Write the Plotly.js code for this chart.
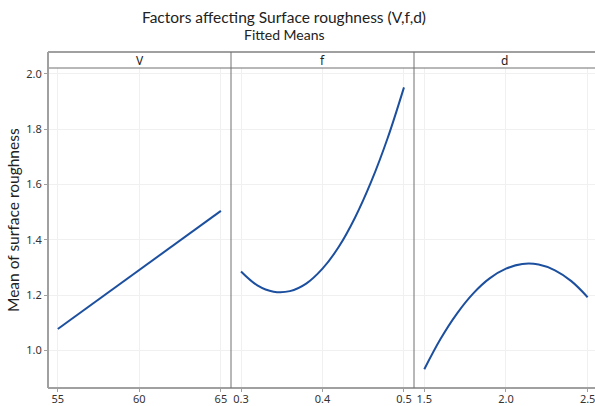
<!DOCTYPE html>
<html>
<head>
<meta charset="utf-8">
<script src="https://cdn.plot.ly/plotly-3.0.1.min.js"></script>
<style>html,body{margin:0;padding:0;background:#fff;}#chart{width:595px;height:406px;}</style>
</head>
<body>
<div id="chart"></div>
<script>
// Data (fitted means)
var vLevels = [55, 60, 65];
var vMeans  = [1.078, 1.292, 1.505];

var fLevels = [0.30, 0.32, 0.34, 0.36, 0.38, 0.40, 0.42, 0.44, 0.46, 0.48, 0.50];
var fMeans  = [1.286, 1.236, 1.213, 1.215, 1.242, 1.296, 1.375, 1.481, 1.612, 1.768, 1.951];

var dLevels = [1.5, 1.6, 1.7, 1.8, 1.9, 2.0, 2.1, 2.2, 2.3, 2.4, 2.5];
var dMeans  = [0.933, 1.043, 1.134, 1.207, 1.261, 1.296, 1.313, 1.311, 1.290, 1.251, 1.193];

var panelNames = ["V", "f", "d"];
var vTicks = [55, 60, 65];
var fTicks = [0.3, 0.4, 0.5];
var dTicks = [1.5, 2.0, 2.5];
var yTicks = [1.0, 1.2, 1.4, 1.6, 1.8, 2.0];

var FONT = "Noto Sans, Open Sans, sans-serif";
var TFONT = "Lato, Noto Sans, sans-serif";
var lineColor = "#1c4f9e";
var gridColor = "#f0f0f0";
var axisGray = "#a0a0a0";
var sepGray = "#707070";

var traces = [
  {x: vLevels, y: vMeans, xaxis: "x", yaxis: "y", mode: "lines", line: {color: lineColor, width: 2}, hoverinfo: "skip"},
  {x: fLevels, y: fMeans, xaxis: "x2", yaxis: "y2", mode: "lines", line: {color: lineColor, width: 2, shape: "spline"}, hoverinfo: "skip"},
  {x: dLevels, y: dMeans, xaxis: "x3", yaxis: "y3", mode: "lines", line: {color: lineColor, width: 2, shape: "spline"}, hoverinfo: "skip"}
];

var d1 = 183/547, d2 = 366/547;
function xax(domain, range, ticks, fmt, anchor) {
  return {
    domain: domain, range: range, anchor: anchor,
    tickmode: "array", tickvals: ticks, ticktext: ticks.map(function(t){return t.toFixed(fmt);}),
    showgrid: true, gridcolor: gridColor, gridwidth: 1,
    zeroline: false, showline: false,
    ticks: "outside", ticklen: 3, tickcolor: axisGray, tickwidth: 1,
    ticklabeloverflow: "allow", ticklabelstandoff: -2,
    tickfont: {family: FONT, size: 11, color: "#333"}, fixedrange: true
  };
}
function yax(anchor, labels) {
  return {
    domain: [0, 1], range: [0.865, 2.021], anchor: anchor,
    tickmode: "array", tickvals: yTicks, ticktext: yTicks.map(function(t){return t.toFixed(1);}),
    showticklabels: labels,
    showgrid: true, gridcolor: gridColor, gridwidth: 1,
    zeroline: false, showline: false,
    ticks: labels ? "outside" : "", ticklen: 3, tickcolor: axisGray, tickwidth: 1,
    tickfont: {family: FONT, size: 11, color: "#333"}, fixedrange: true
  };
}

var H = 320; // plot area height in px (68..388)
var stripTop = 1 + 16/H;
var shapes = [
  {type: "line", xref: "paper", yref: "paper", x0: 0, x1: 1, y0: stripTop, y1: stripTop, line: {color: axisGray, width: 2}},
  {type: "line", xref: "paper", yref: "paper", x0: 0, x1: 1, y0: 1, y1: 1, line: {color: sepGray, width: 1}},
  {type: "line", xref: "paper", yref: "paper", x0: 0, x1: 0, y0: 0, y1: stripTop, line: {color: axisGray, width: 2}},
  {type: "line", xref: "paper", yref: "paper", x0: 0, x1: 1, y0: 0, y1: 0, line: {color: axisGray, width: 2}},
  {type: "line", xref: "paper", yref: "paper", x0: d1, x1: d1, y0: 0, y1: stripTop, line: {color: sepGray, width: 1}},
  {type: "line", xref: "paper", yref: "paper", x0: d2, x1: d2, y0: 0, y1: stripTop, line: {color: sepGray, width: 1}}
];

var centers = [d1/2, (d1+d2)/2, (d2+1)/2];
var annotations = panelNames.map(function(n, i){
  return {text: n, xref: "paper", yref: "paper", x: centers[i], y: (1+stripTop)/2, xanchor: "center", yanchor: "middle",
          showarrow: false, font: {family: FONT, size: 12, color: "#222"}};
});
var titleX = (284-48)/547;
annotations.push({text: "Factors affecting Surface roughness (V,f,d)", xref: "paper", yref: "paper", x: titleX, y: 1 + (68-17)/H,
  xanchor: "center", yanchor: "middle", showarrow: false, font: {family: TFONT, size: 15.5, color: "#222"}});
annotations.push({text: "Fitted Means", xref: "paper", yref: "paper", x: titleX, y: 1 + (68-34)/H,
  xanchor: "center", yanchor: "middle", showarrow: false, font: {family: TFONT, size: 14, color: "#222"}});
annotations.push({text: "Mean of surface roughness", xref: "paper", yref: "paper", x: (13-48)/547, y: (388-220)/H,
  xanchor: "center", yanchor: "middle", textangle: -90, showarrow: false, font: {family: TFONT, size: 15.5, color: "#222"}});

var layout = {
  width: 595, height: 406,
  margin: {l: 48, r: 0, t: 68, b: 18, pad: 0},
  paper_bgcolor: "#fff", plot_bgcolor: "#fff",
  showlegend: false,
  xaxis: xax([0, d1], [54.4, 65.62], vTicks, 0, "y"),
  xaxis2: xax([d1, d2], [0.2877, 0.5123], fTicks, 1, "y2"),
  xaxis3: xax([d2, 1], [1.437, 2.545], dTicks, 1, "y3"),
  yaxis: yax("x", true),
  yaxis2: yax("x2", false),
  yaxis3: yax("x3", false),
  shapes: shapes,
  annotations: annotations
};

Plotly.newPlot("chart", traces, layout, {displayModeBar: false, staticPlot: true});
</script>
</body>
</html>
